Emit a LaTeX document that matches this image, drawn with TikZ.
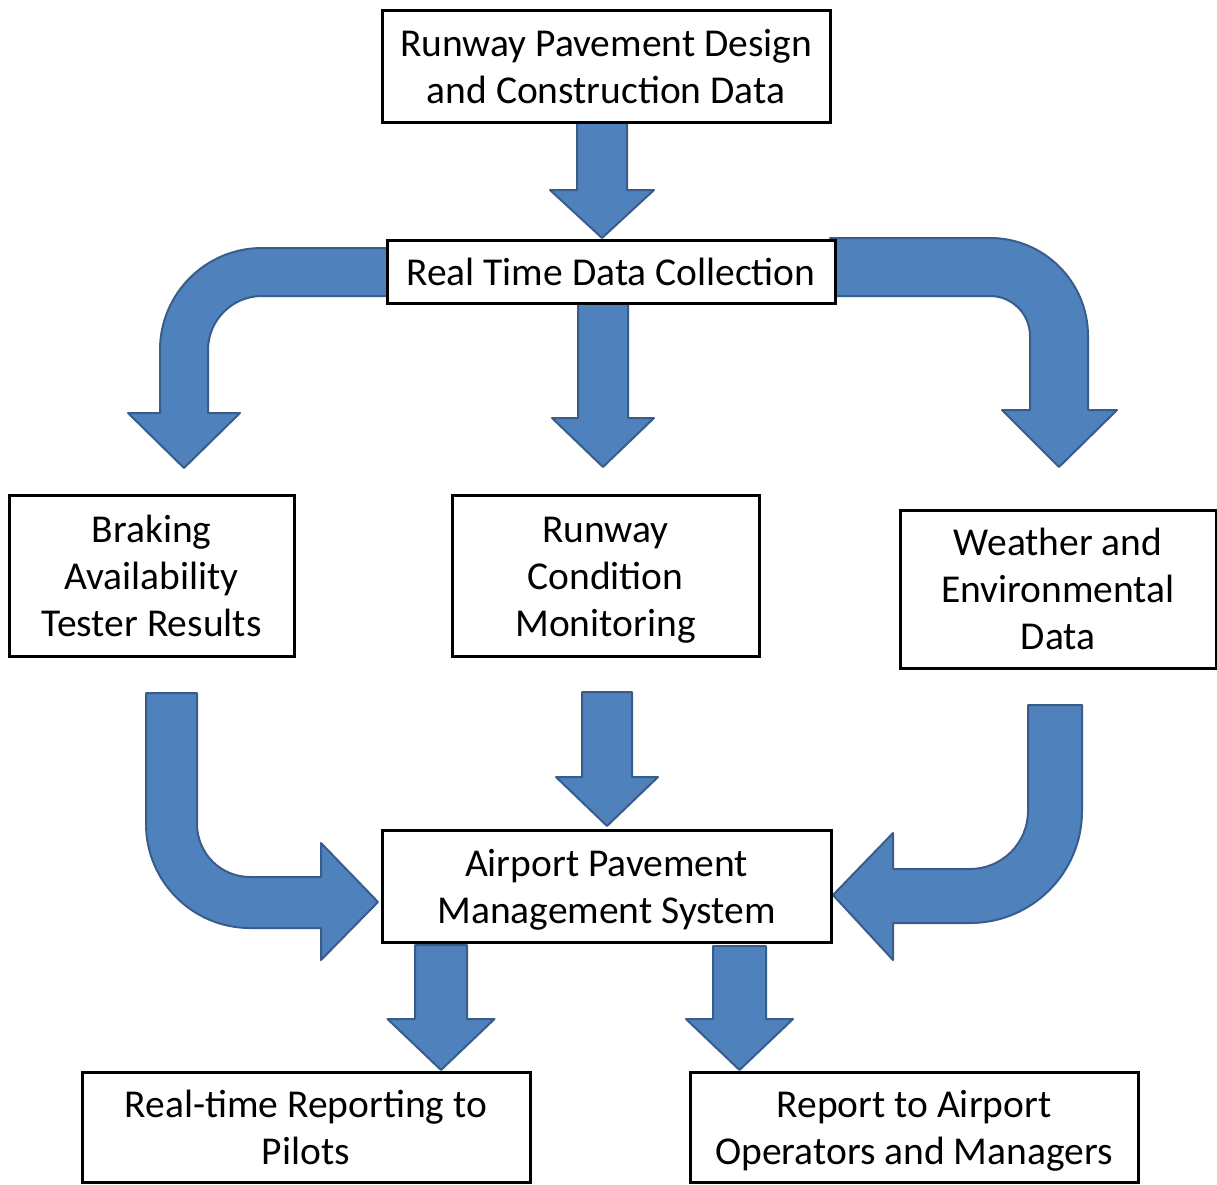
\documentclass[tikz,border=0pt]{standalone}
\usepackage{fontspec}
\setmainfont{Carlito}
\definecolor{arrfill}{HTML}{4F81BD}
\definecolor{arrline}{HTML}{385D8A}
\tikzset{
  box/.style={draw=black, line width=3pt, fill=white, inner sep=0pt, align=center,
    font=\fontsize{39.5}{47}\selectfont},
  blockarrow/.style={fill=arrfill, draw=arrline, line width=2pt, line join=round}
}
\newcommand\fst{\rule{0pt}{42pt}\strut}
\newcommand\downblk[6]{% x, top y, head base y, tip y, shaft half, head half
  \filldraw[blockarrow] (#1-#5,#2) -- (#1+#5,#2) -- (#1+#5,#3) -- (#1+#6,#3) -- (#1,#4)
    -- (#1-#6,#3) -- (#1-#5,#3) -- cycle;}
\begin{document}
\begin{tikzpicture}[x=1pt,y=-1pt]
\useasboundingbox (0,0) rectangle (1217,1184);
% straight block arrows
\downblk{602}{118}{190}{238}{25}{52}
\downblk{603}{300}{418}{467}{25}{51}
\downblk{607}{692}{777}{826}{25}{51}
\downblk{441}{945}{1019}{1070}{26}{53.5}
\downblk{739.5}{946}{1019}{1070}{26.5}{53.5}
% top-left curved arrow
\filldraw[blockarrow] (392,248) -- (262,248)
  .. controls (205.7,248) and (160,293.7) .. (160,350) -- (160,413) -- (128,413)
  -- (184,468) -- (240,413) -- (208,413) -- (208,350)
  .. controls (208,320.2) and (232.2,296) .. (262,296) -- (392,296) -- cycle;
% top-right curved arrow
\filldraw[blockarrow] (830,238) -- (990,238)
  .. controls (1044.1,238) and (1088,281.9) .. (1088,336) -- (1088,410) -- (1117,410)
  -- (1059,467) -- (1002,410) -- (1030,410) -- (1030,336)
  .. controls (1030,313.9) and (1012.1,296) .. (990,296) -- (830,296) -- cycle;
% bottom-left curved arrow
\filldraw[blockarrow] (146,693) -- (197,693) -- (197,824)
  .. controls (197,853.3) and (220.7,877) .. (250,877) -- (321,877) -- (321,843)
  -- (378,902) -- (321,960) -- (321,928) -- (250,928)
  .. controls (192.6,928) and (146,881.4) .. (146,824) -- cycle;
% bottom-right curved arrow
\filldraw[blockarrow] (1028,705) -- (1082,705) -- (1082,811)
  .. controls (1082,872.9) and (1031.9,923) .. (970,923) -- (893,923) -- (893,960)
  -- (833,895) -- (893,833) -- (893,869) -- (970,869)
  .. controls (1002,869) and (1028,843) .. (1028,811) -- cycle;
% boxes
\node[box, minimum width=448pt, minimum height=112pt] (top) at (606,66)
  {\fst Runway Pavement Design\\\strut and Construction Data};
\node[box, minimum width=448pt, minimum height=63pt] (rtdc) at (611,271.5)
  {\fst Real Time Data Collection};
\node[box, minimum width=285pt, minimum height=161pt] (brake) at (151.5,575.5)
  {\fst Braking\\\strut Availability\\\strut Tester Results};
\node[box, minimum width=307pt, minimum height=161pt] (cond) at (605.5,575.5)
  {\fst Runway\\\strut Condition\\\strut Monitoring};
\node[box, minimum width=316pt, minimum height=158pt] (weather) at (1058,589)
  {\fst Weather and\\\strut Environmental\\\strut Data};
\node[box, minimum width=449pt, minimum height=112pt] (apms) at (606.5,886)
  {\fst Airport Pavement\\\strut Management System};
\node[box, minimum width=448pt, minimum height=110pt] (rt) at (306,1127)
  {\fst Real-time Reporting to\\\strut Pilots};
\node[box, minimum width=448pt, minimum height=110pt] (rep) at (914,1127)
  {\fst Report to Airport\\\strut Operators and Managers};
\end{tikzpicture}
\end{document}
